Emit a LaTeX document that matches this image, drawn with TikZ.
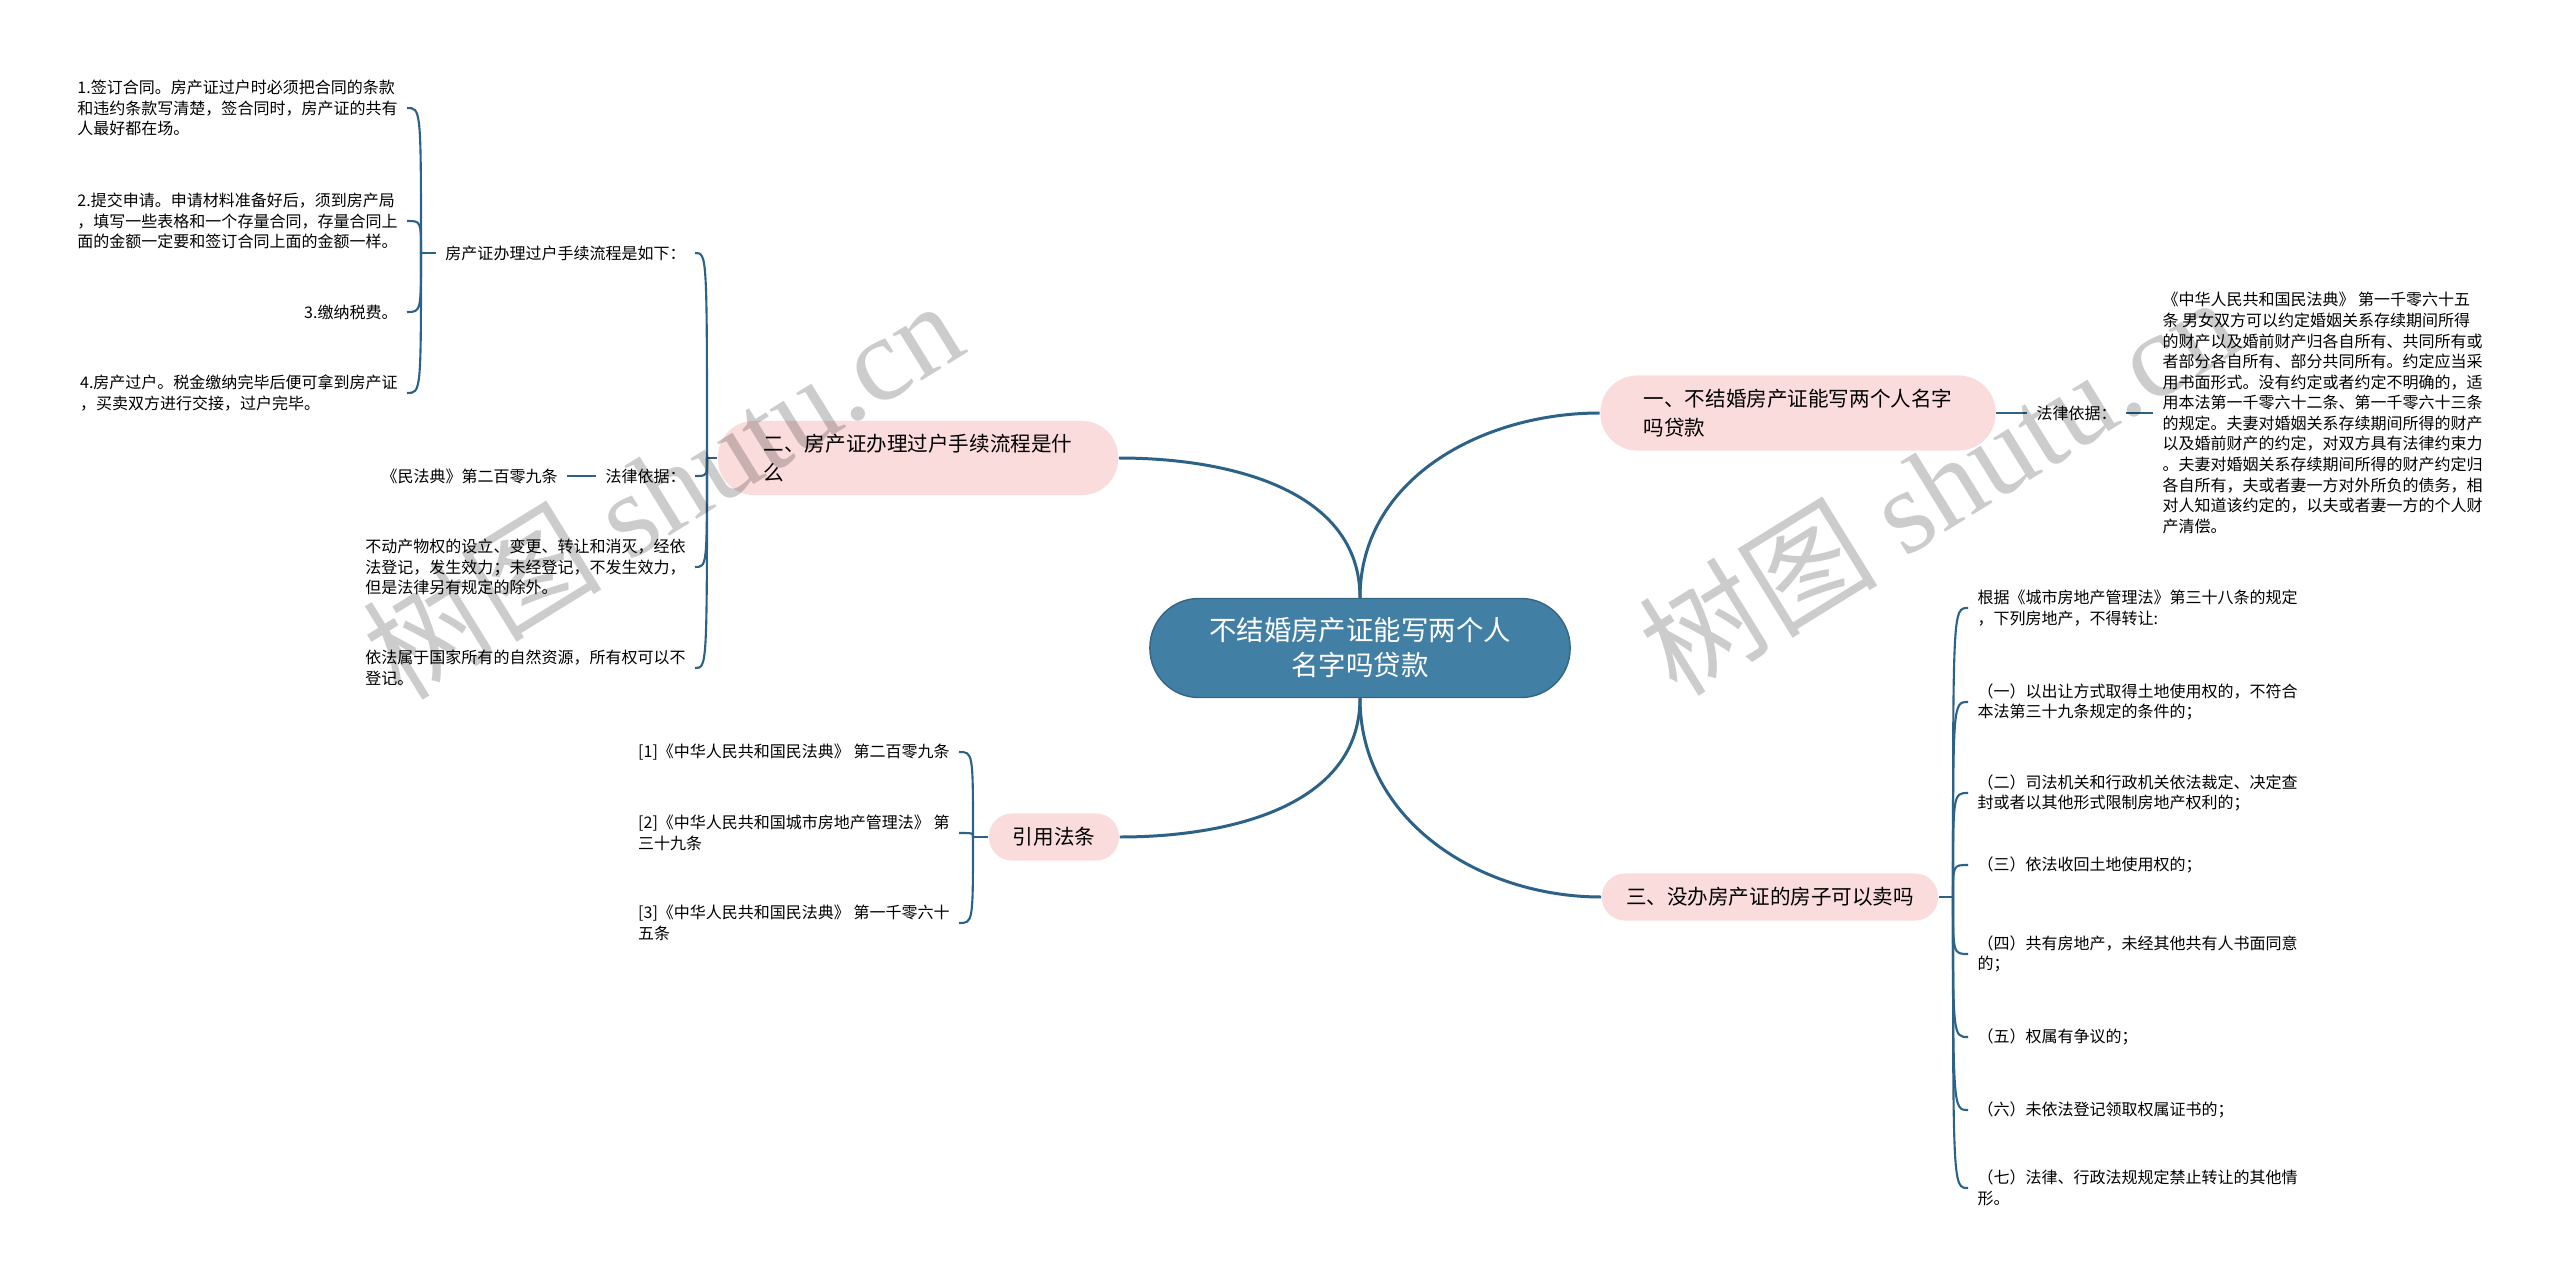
\documentclass[tikz,border=0pt]{standalone}
\usepackage{fontspec}
\setmainfont{Noto Sans CJK SC}
\newfontfamily\wmlatin{Liberation Serif}
\usepackage{xcolor}
\usetikzlibrary{positioning,calc}

\definecolor{xianlan}{RGB}{44,98,135}
\definecolor{zhongxin}{RGB}{66,127,165}
\definecolor{fenhong}{RGB}{251,220,220}

\begin{document}
\begin{tikzpicture}[x=0.01cm, y=-0.01cm,
    zhuti/.style={fill=zhongxin, draw=zhongxin!80!black, text=white, align=center,
        minimum width=4.2cm, minimum height=0.99cm, rounded corners=0.49cm,
        font=\fontsize{7.8pt}{10pt}\selectfont},
    fenzhi/.style={fill=fenhong, align=left, inner sep=0pt,
        font=\fontsize{5.85pt}{8.3pt}\selectfont},
    wenzi/.style={align=left, inner xsep=2.5pt, inner ysep=1pt,
        font=\fontsize{4.55pt}{5.85pt}\selectfont},
    shuiyin/.style={rotate=31.7, text=black, opacity=0.2,
        font=\fontsize{34pt}{34pt}\selectfont},
    zhu/.style={draw=xianlan, line width=0.85pt},
    lian/.style={draw=xianlan, line width=0.6pt}]
    % 画布
    \fill[white] (0,0) rectangle (2560,1285);
    \useasboundingbox (0,0) rectangle (2560,1285);

    % 中心主题
    \node[zhuti] (c) at (1360,648) {不结婚房产证能写两个人\\名字吗贷款};

    % 一级分支
    \node[fenzhi, minimum width=3.95cm, minimum height=0.75cm, rounded corners=0.37cm] (b1) at (1798,413) {一、不结婚房产证能写两个人名字\\吗贷款};
    \node[fenzhi, minimum width=4.0cm, minimum height=0.74cm, rounded corners=0.36cm] (b2) at (918,458) {二、房产证办理过户手续流程是什\\么};
    \node[fenzhi, minimum width=3.36cm, minimum height=0.47cm, rounded corners=0.23cm] (b3) at (1770,897) {三、没办房产证的房子可以卖吗};
    \node[fenzhi, minimum width=1.3cm, minimum height=0.47cm, rounded corners=0.23cm] (b4) at (1054,837) {引用法条};
    \draw[zhu] (c.north) to[out=90,in=180] (b1.west);
    \draw[zhu] (c.north) to[out=90,in=0] (b2.east);
    \draw[zhu] (c.south) to[out=-90,in=180] (b3.west);
    \draw[zhu] (c.south) to[out=-90,in=0] (b4.east);

    % 一：法律依据
    \node[wenzi, anchor=west] (m1) at (2027,413) {法律依据：};
    \node[wenzi, anchor=west] (m2) at (2153,413) {《中华人民共和国民法典》 第一千零六十五\\条 男女双方可以约定婚姻关系存续期间所得\\的财产以及婚前财产归各自所有、共同所有或\\者部分各自所有、部分共同所有。约定应当采\\用书面形式。没有约定或者约定不明确的，适\\用本法第一千零六十二条、第一千零六十三条\\的规定。夫妻对婚姻关系存续期间所得的财产\\以及婚前财产的约定，对双方具有法律约束力\\。夫妻对婚姻关系存续期间所得的财产约定归\\各自所有，夫或者妻一方对外所负的债务，相\\对人知道该约定的，以夫或者妻一方的个人财\\产清偿。};
    \draw[lian] (b1.east) -- (m1.west);
    \draw[lian] (m1.east) -- (m2.west);

    % 二：过户流程
    \coordinate (s2) at (707,458);
    \draw[lian] (b2.west) -- (s2);
    \node[wenzi, anchor=east] (k1) at (695,253) {房产证办理过户手续流程是如下：};
    \node[wenzi, anchor=east] (k2) at (695,476) {法律依据：};
    \node[wenzi, anchor=east] (k3) at (695,567) {不动产物权的设立、变更、转让和消灭，经依\\法登记，发生效力；未经登记，不发生效力，\\但是法律另有规定的除外。};
    \node[wenzi, anchor=east] (k4) at (695,668) {依法属于国家所有的自然资源，所有权可以不\\登记。};
    \node[wenzi, anchor=east] (k5) at (567,476) {《民法典》第二百零九条};
    \foreach \k in {k1,k2,k3,k4}
        \draw[lian] (s2) .. controls (s2 |- \k.east) .. (\k.east);
    \draw[lian] (k2.west) -- (k5.east);

    % 流程四步
    \coordinate (s1) at (421,253);
    \draw[lian] (k1.west) -- (s1);
    \node[wenzi, anchor=east] (g1) at (407,108) {1.签订合同。房产证过户时必须把合同的条款\\和违约条款写清楚，签合同时，房产证的共有\\人最好都在场。};
    \node[wenzi, anchor=east] (g2) at (407,221) {2.提交申请。申请材料准备好后，须到房产局\\，填写一些表格和一个存量合同，存量合同上\\面的金额一定要和签订合同上面的金额一样。};
    \node[wenzi, anchor=east] (g3) at (407,312) {3.缴纳税费。};
    \node[wenzi, anchor=east] (g4) at (407,393) {4.房产过户。税金缴纳完毕后便可拿到房产证\\，买卖双方进行交接，过户完毕。};
    \foreach \g in {g1,g2,g3,g4}
        \draw[lian] (s1) .. controls (s1 |- \g.east) .. (\g.east);

    % 三：不得转让的情形
    \coordinate (s3) at (1953,897);
    \draw[lian] (b3.east) -- (s3);
    \node[wenzi, anchor=west] (n0) at (1968,608) {根据《城市房地产管理法》第三十八条的规定\\，下列房地产，不得转让:};
    \node[wenzi, anchor=west] (n1) at (1968,702) {（一）以出让方式取得土地使用权的，不符合\\本法第三十九条规定的条件的；};
    \node[wenzi, anchor=west] (n2) at (1968,793) {（二）司法机关和行政机关依法裁定、决定查\\封或者以其他形式限制房地产权利的；};
    \node[wenzi, anchor=west] (n3) at (1968,865) {（三）依法收回土地使用权的；};
    \node[wenzi, anchor=west] (n4) at (1968,954) {（四）共有房地产，未经其他共有人书面同意\\的；};
    \node[wenzi, anchor=west] (n5) at (1968,1037) {（五）权属有争议的；};
    \node[wenzi, anchor=west] (n6) at (1968,1110) {（六）未依法登记领取权属证书的；};
    \node[wenzi, anchor=west] (n7) at (1968,1188) {（七）法律、行政法规规定禁止转让的其他情\\形。};
    \foreach \n in {n0,n1,n2,n3,n4,n5,n6,n7}
        \draw[lian] (s3) .. controls (s3 |- \n.west) .. (\n.west);

    % 引用法条
    \coordinate (s4) at (973,837);
    \draw[lian] (b4.west) -- (s4);
    \node[wenzi, anchor=east] (r1) at (959,752) {[1]《中华人民共和国民法典》 第二百零九条};
    \node[wenzi, anchor=east] (r2) at (959,833) {[2]《中华人民共和国城市房地产管理法》 第\\三十九条};
    \node[wenzi, anchor=east] (r3) at (959,923) {[3]《中华人民共和国民法典》 第一千零六十\\五条};
    \foreach \r in {r1,r2,r3}
        \draw[lian] (s4) .. controls (s4 |- \r.east) .. (\r.east);

    % 水印
    \node[shuiyin] (w1) at (662,488) {树图 {\wmlatin shutu.cn}};
    \node[shuiyin] (w2) at (1938,484) {树图 {\wmlatin shutu.cn}};
\end{tikzpicture}
\end{document}
